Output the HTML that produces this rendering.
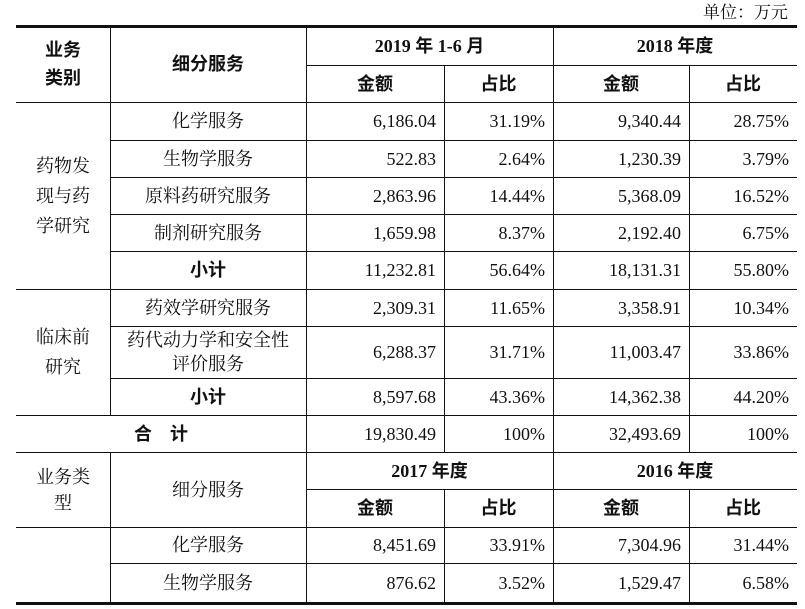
<!DOCTYPE html>
<html><head><meta charset="utf-8"><style>
html,body{margin:0;padding:0;background:#fff;width:805px;height:609px;overflow:hidden;position:relative}
.h{position:absolute;height:1px;background:#111}
.v{position:absolute;width:1px;background:#111}
.c{position:absolute;display:flex;align-items:center;justify-content:center;text-align:center;font-family:"Liberation Serif","Noto Serif CJK SC",serif;font-size:18px;color:#111;line-height:28px}
.r{justify-content:flex-end;padding-right:8px;box-sizing:border-box}
.b{font-weight:bold;font-family:"Liberation Serif","Noto Sans CJK SC",sans-serif}
</style></head><body>
<div class="c" style="left:600px;top:0;width:188px;height:26px;justify-content:flex-end;font-size:17px">单位：万元</div>
<!-- horizontal -->
<div class="h" style="left:16px;top:25px;width:781px;height:3px"></div>
<div class="h" style="left:306px;top:65px;width:491px"></div>
<div class="h" style="left:16px;top:102px;width:781px"></div>
<div class="h" style="left:110px;top:140px;width:687px"></div>
<div class="h" style="left:110px;top:177px;width:687px"></div>
<div class="h" style="left:110px;top:214px;width:687px"></div>
<div class="h" style="left:110px;top:251px;width:687px"></div>
<div class="h" style="left:16px;top:289px;width:781px"></div>
<div class="h" style="left:110px;top:326px;width:687px"></div>
<div class="h" style="left:110px;top:378px;width:687px"></div>
<div class="h" style="left:16px;top:415px;width:781px"></div>
<div class="h" style="left:16px;top:452px;width:781px"></div>
<div class="h" style="left:306px;top:489px;width:491px"></div>
<div class="h" style="left:16px;top:527px;width:781px"></div>
<div class="h" style="left:110px;top:563px;width:687px"></div>
<div class="h" style="left:16px;top:602px;width:781px;height:3px"></div>
<!-- vertical -->
<div class="v" style="left:110px;top:26px;height:389px"></div>
<div class="v" style="left:110px;top:452px;height:151px"></div>
<div class="v" style="left:306px;top:26px;height:577px"></div>
<div class="v" style="left:444px;top:65px;height:387px"></div>
<div class="v" style="left:444px;top:489px;height:114px"></div>
<div class="v" style="left:553px;top:26px;height:577px"></div>
<div class="v" style="left:689px;top:65px;height:387px"></div>
<div class="v" style="left:689px;top:489px;height:114px"></div>
<!-- header 1 -->
<div class="c b" style="left:16px;top:26px;width:94px;height:76px">业务<br>类别</div>
<div class="c b" style="left:110px;top:26px;width:196px;height:76px">细分服务</div>
<div class="c b" style="left:306px;top:26px;width:247px;height:39px">2019 年 1-6 月</div>
<div class="c b" style="left:553px;top:26px;width:244px;height:39px">2018 年度</div>
<div class="c b" style="left:306px;top:65px;width:138px;height:37px">金额</div>
<div class="c b" style="left:444px;top:65px;width:109px;height:37px">占比</div>
<div class="c b" style="left:553px;top:65px;width:136px;height:37px">金额</div>
<div class="c b" style="left:689px;top:65px;width:108px;height:37px">占比</div>
<!-- group labels -->
<div class="c" style="left:16px;top:102px;width:94px;height:187px;line-height:30px">药物发<br>现与药<br>学研究</div>
<div class="c" style="left:16px;top:289px;width:94px;height:126px;line-height:30px">临床前<br>研究</div>
<div class="c b" style="left:16px;top:415px;width:290px;height:37px">合　计</div>
<!-- rows -->
<div class="c" style="left:110px;top:102px;width:196px;height:38px">化学服务</div>
<div class="c r" style="left:306px;top:102px;width:138px;height:38px">6,186.04</div>
<div class="c r" style="left:444px;top:102px;width:109px;height:38px">31.19%</div>
<div class="c r" style="left:553px;top:102px;width:136px;height:38px">9,340.44</div>
<div class="c r" style="left:689px;top:102px;width:108px;height:38px">28.75%</div>

<div class="c" style="left:110px;top:140px;width:196px;height:37px">生物学服务</div>
<div class="c r" style="left:306px;top:140px;width:138px;height:37px">522.83</div>
<div class="c r" style="left:444px;top:140px;width:109px;height:37px">2.64%</div>
<div class="c r" style="left:553px;top:140px;width:136px;height:37px">1,230.39</div>
<div class="c r" style="left:689px;top:140px;width:108px;height:37px">3.79%</div>

<div class="c" style="left:110px;top:177px;width:196px;height:37px">原料药研究服务</div>
<div class="c r" style="left:306px;top:177px;width:138px;height:37px">2,863.96</div>
<div class="c r" style="left:444px;top:177px;width:109px;height:37px">14.44%</div>
<div class="c r" style="left:553px;top:177px;width:136px;height:37px">5,368.09</div>
<div class="c r" style="left:689px;top:177px;width:108px;height:37px">16.52%</div>

<div class="c" style="left:110px;top:214px;width:196px;height:37px">制剂研究服务</div>
<div class="c r" style="left:306px;top:214px;width:138px;height:37px">1,659.98</div>
<div class="c r" style="left:444px;top:214px;width:109px;height:37px">8.37%</div>
<div class="c r" style="left:553px;top:214px;width:136px;height:37px">2,192.40</div>
<div class="c r" style="left:689px;top:214px;width:108px;height:37px">6.75%</div>

<div class="c b" style="left:110px;top:251px;width:196px;height:38px">小计</div>
<div class="c r" style="left:306px;top:251px;width:138px;height:38px">11,232.81</div>
<div class="c r" style="left:444px;top:251px;width:109px;height:38px">56.64%</div>
<div class="c r" style="left:553px;top:251px;width:136px;height:38px">18,131.31</div>
<div class="c r" style="left:689px;top:251px;width:108px;height:38px">55.80%</div>

<div class="c" style="left:110px;top:289px;width:196px;height:37px">药效学研究服务</div>
<div class="c r" style="left:306px;top:289px;width:138px;height:37px">2,309.31</div>
<div class="c r" style="left:444px;top:289px;width:109px;height:37px">11.65%</div>
<div class="c r" style="left:553px;top:289px;width:136px;height:37px">3,358.91</div>
<div class="c r" style="left:689px;top:289px;width:108px;height:37px">10.34%</div>

<div class="c" style="left:110px;top:326px;width:196px;height:52px;line-height:24px">药代动力学和安全性<br>评价服务</div>
<div class="c r" style="left:306px;top:326px;width:138px;height:52px">6,288.37</div>
<div class="c r" style="left:444px;top:326px;width:109px;height:52px">31.71%</div>
<div class="c r" style="left:553px;top:326px;width:136px;height:52px">11,003.47</div>
<div class="c r" style="left:689px;top:326px;width:108px;height:52px">33.86%</div>

<div class="c b" style="left:110px;top:378px;width:196px;height:37px">小计</div>
<div class="c r" style="left:306px;top:378px;width:138px;height:37px">8,597.68</div>
<div class="c r" style="left:444px;top:378px;width:109px;height:37px">43.36%</div>
<div class="c r" style="left:553px;top:378px;width:136px;height:37px">14,362.38</div>
<div class="c r" style="left:689px;top:378px;width:108px;height:37px">44.20%</div>

<div class="c r" style="left:306px;top:415px;width:138px;height:37px">19,830.49</div>
<div class="c r" style="left:444px;top:415px;width:109px;height:37px">100%</div>
<div class="c r" style="left:553px;top:415px;width:136px;height:37px">32,493.69</div>
<div class="c r" style="left:689px;top:415px;width:108px;height:37px">100%</div>
<!-- header 2 -->
<div class="c" style="left:16px;top:452px;width:94px;height:75px;line-height:26px">业务类<br>型</div>
<div class="c" style="left:110px;top:452px;width:196px;height:75px">细分服务</div>
<div class="c b" style="left:306px;top:452px;width:247px;height:37px">2017 年度</div>
<div class="c b" style="left:553px;top:452px;width:244px;height:37px">2016 年度</div>
<div class="c b" style="left:306px;top:489px;width:138px;height:38px">金额</div>
<div class="c b" style="left:444px;top:489px;width:109px;height:38px">占比</div>
<div class="c b" style="left:553px;top:489px;width:136px;height:38px">金额</div>
<div class="c b" style="left:689px;top:489px;width:108px;height:38px">占比</div>

<div class="c" style="left:110px;top:527px;width:196px;height:36px">化学服务</div>
<div class="c r" style="left:306px;top:527px;width:138px;height:36px">8,451.69</div>
<div class="c r" style="left:444px;top:527px;width:109px;height:36px">33.91%</div>
<div class="c r" style="left:553px;top:527px;width:136px;height:36px">7,304.96</div>
<div class="c r" style="left:689px;top:527px;width:108px;height:36px">31.44%</div>

<div class="c" style="left:110px;top:563px;width:196px;height:39px">生物学服务</div>
<div class="c r" style="left:306px;top:563px;width:138px;height:39px">876.62</div>
<div class="c r" style="left:444px;top:563px;width:109px;height:39px">3.52%</div>
<div class="c r" style="left:553px;top:563px;width:136px;height:39px">1,529.47</div>
<div class="c r" style="left:689px;top:563px;width:108px;height:39px">6.58%</div>
</body></html>
